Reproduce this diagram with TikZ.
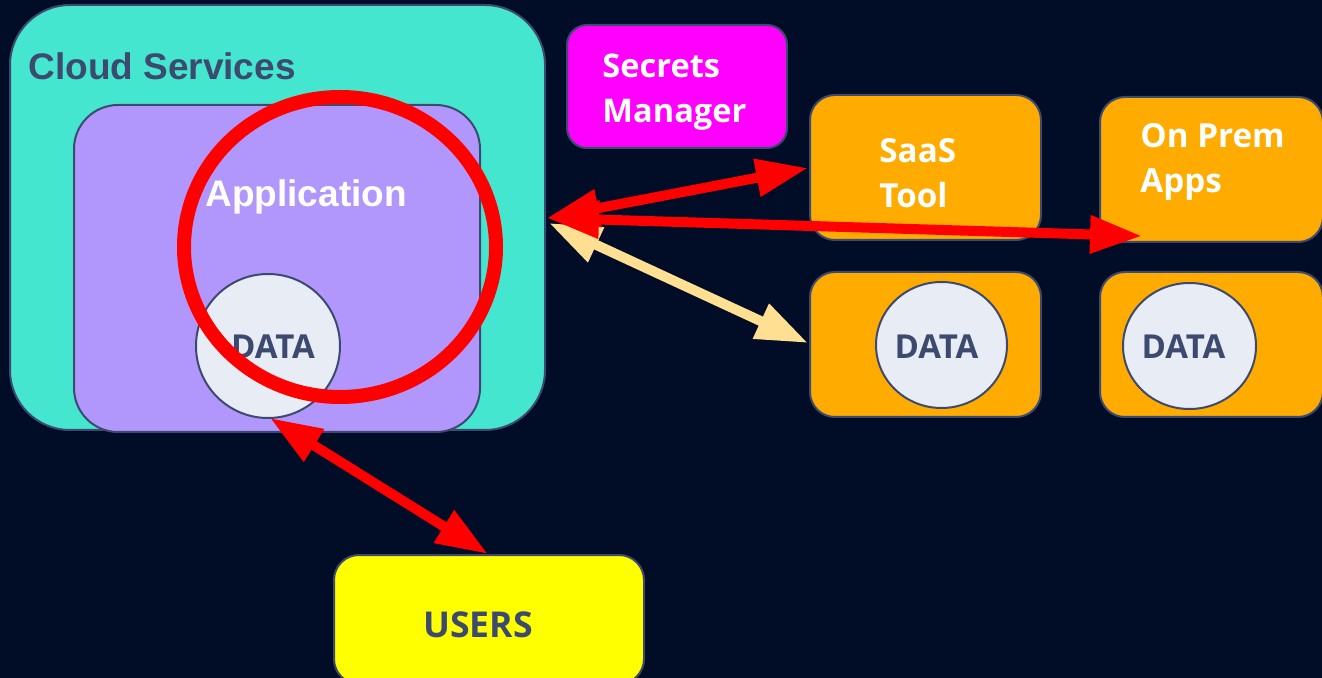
\documentclass[tikz,border=0pt]{standalone}
\usepackage{fontspec}
\newfontfamily\arialf{Liberation Sans}
\newfontfamily\srcf{Open Sans}
\usetikzlibrary{arrows.meta,shapes.geometric}
\definecolor{bg}{RGB}{1,13,38}
\definecolor{turq}{RGB}{69,230,207}
\definecolor{lav}{RGB}{177,151,252}
\definecolor{mag}{RGB}{255,0,255}
\definecolor{orng}{RGB}{255,171,0}
\definecolor{yel}{RGB}{255,255,0}
\definecolor{datafill}{RGB}{232,237,245}
\definecolor{slate}{RGB}{61,74,112}
\definecolor{cream}{RGB}{255,224,147}
\tikzset{
  box/.style={draw=slate, line width=1pt, inner sep=0pt},
  datac/.style={ellipse, draw=slate, line width=1pt, fill=datafill, inner sep=0pt},
  wlabel/.style={text=white, font=\srcf\bfseries\fontsize{16.6}{20}\selectfont, anchor=base west, inner sep=0pt},
  dlabel/.style={text=slate, font=\srcf\bfseries\fontsize{16.5}{20}\selectfont, inner sep=0pt},
  redarrow/.style={draw=red, line width=5pt, {Triangle[length=26pt,width=18pt]}-{Triangle[length=26pt,width=18pt]}},
  creamarrow/.style={draw=cream, line width=5pt, {Triangle[length=26pt,width=18pt]}-{Triangle[length=26pt,width=18pt]}},
}
\begin{document}
\begin{tikzpicture}[x=0.5pt,y=-0.5pt]
\useasboundingbox (0,0) rectangle (1322,678);
\fill[bg] (0,0) rectangle (1322,678);
% cloud services
\node[box, fill=turq, rounded corners=30pt, minimum width=267.5pt, minimum height=212.5pt] (cloud) at (277.5,217.5) {};
\node[anchor=base west, inner sep=0pt, text=slate, font=\arialf\bfseries\fontsize{18.5}{22}\selectfont] (cloudlbl) at (28,80) {Cloud Services};
% application
\node[box, fill=lav, rounded corners=22pt, minimum width=203pt, minimum height=163.5pt] (app) at (277,268.5) {};
\node[anchor=base west, inner sep=0pt, text=white, font=\arialf\bfseries\fontsize{18.5}{22}\selectfont] (applbl) at (205,207) {Application};
\node[datac, minimum width=72pt, minimum height=72pt] (appdata) at (268,346) {};
\node[dlabel] (appdatalbl) at (273,347) {DATA};
% red ring
\node[ellipse, draw=red, line width=7pt, minimum width=156pt, minimum height=150pt, inner sep=0pt] (ring) at (340,247) {};
% secrets manager
\node[box, fill=mag, rounded corners=10pt, minimum width=110pt, minimum height=61.5pt] (secrets) at (677,86.5) {};
\node[wlabel, font=\srcf\bfseries\fontsize{16.3}{19}\selectfont] (secl1) at (602,78) {Secrets};
\node[wlabel, font=\srcf\bfseries\fontsize{16.3}{19}\selectfont] (secl2) at (602,123) {Manager};
% saas
\node[box, fill=orng, rounded corners=12.5pt, minimum width=115.5pt, minimum height=72.5pt] (saas) at (925.5,167.5) {};
\node[wlabel] (saasl1) at (879,163) {SaaS};
\node[wlabel] (saasl2) at (879,208) {Tool};
% on prem
\node[box, fill=orng, rounded corners=12.5pt, minimum width=111.5pt, minimum height=72.5pt] (onprem) at (1211.5,169.5) {};
\node[wlabel] (onl1) at (1140,148) {On Prem};
\node[wlabel] (onl2) at (1140,193) {Apps};
% data boxes
\node[box, fill=orng, rounded corners=12.5pt, minimum width=115.5pt, minimum height=72.5pt] (dbox1) at (925.5,344.5) {};
\node[datac, minimum width=65.5pt, minimum height=63pt] (d1) at (941.5,345) {};
\node[dlabel] (d1lbl) at (936.5,347) {DATA};
\node[box, fill=orng, rounded corners=12.5pt, minimum width=111.5pt, minimum height=72.5pt] (dbox2) at (1211.5,344.5) {};
\node[datac, minimum width=66.5pt, minimum height=63pt] (d2) at (1189.5,346) {};
\node[dlabel] (d2lbl) at (1183.5,347) {DATA};
% users
\node[box, fill=yel, rounded corners=12.5pt, minimum width=155pt, minimum height=64.5pt] (users) at (489,619.5) {};
\node[dlabel, font=\srcf\bfseries\fontsize{17.8}{21}\selectfont] (userslbl) at (478,625) {USERS};
% arrow end points
\coordinate (hub) at (547,218);
\coordinate (saastip) at (808,168);
\coordinate (ontip) at (1142,236);
\coordinate (hub2) at (549,223);
\coordinate (dtip) at (808,343);
\coordinate (apptip) at (270,418);
\coordinate (ustip) at (488,554);
% arrows
\draw[creamarrow] (hub2) -- (dtip);
\draw[redarrow] (hub) -- (ontip);
\draw[redarrow] (hub) -- (saastip);
\draw[redarrow] (apptip) -- (ustip);
\end{tikzpicture}
\end{document}
